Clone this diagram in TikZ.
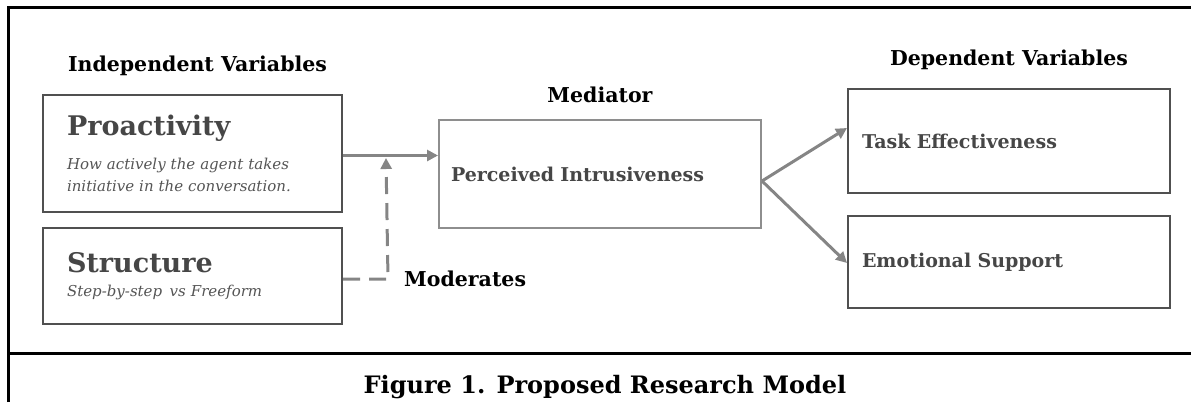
\documentclass[tikz,border=0pt]{standalone}
\usepackage{fontspec}
\setmainfont{DejaVu Serif}
\usepackage{tikz}
\usetikzlibrary{positioning, arrows.meta}

\definecolor{boxline}{HTML}{505050}
\definecolor{medline}{HTML}{8E8E8E}
\definecolor{arrgray}{HTML}{858585}
\definecolor{boxtext}{HTML}{464646}
\definecolor{desctext}{HTML}{555555}

\begin{document}
\begin{tikzpicture}[
        x=1pt, y=-1pt,
        node distance=14pt and 14pt,
        base/.style={draw=boxline, line width=2pt, rectangle, anchor=north west, align=left, text=boxtext, inner ysep=0pt},
        ivbox/.style={base, minimum width=299pt, text width=251pt, inner xsep=24pt, font=\fontsize{15}{22}\selectfont},
        medbox/.style={base, draw=medline, minimum width=322pt, text width=298pt, inner xsep=12pt, minimum height=108pt, font=\fontsize{19}{23}\selectfont\bfseries},
        dvbox/.style={base, minimum width=322pt, text width=294pt, inner xsep=14pt, font=\fontsize{19}{23}\selectfont\bfseries},
        head/.style={inner sep=0pt, font=\fontsize{20.5}{24}\selectfont\bfseries},
        capt/.style={inner sep=0pt, font=\fontsize{24}{28}\selectfont\bfseries},
        frame/.style={line width=3pt, black},
        arr/.style={-{Triangle[length=11pt, width=11pt]}, line width=3pt, draw=arrgray},
        dasharr/.style={arr, dash pattern=on 17pt off 9pt}
    ]
    \useasboundingbox (0,0) rectangle (1191,402);

    % frame
    \draw[frame] (8,402) -- (8,7) -- (1191,7);
    \draw[frame] (8,353) -- (1191,353);

    % boxes
    \node[ivbox, minimum height=117pt] (pro) at (42,94)
        {{\fontsize{27}{30}\selectfont\bfseries Proactivity}\\[12pt]
         {\color{desctext}\itshape How actively the agent takes}\\
         {\color{desctext}\itshape initiative in the conversation.}};
    \node[ivbox, minimum height=96pt, below=14pt of pro] (str)
        {{\fontsize{27}{30}\selectfont\bfseries Structure}\\[2pt]
         {\color{desctext}\itshape Step-by-step\, vs Freeform}};
    \node[medbox] (med) at (438,119) {Perceived Intrusiveness};
    \node[dvbox, minimum height=104pt] (task) at (847,88) {Task Effectiveness};
    \node[dvbox, minimum height=92pt, below=21pt of task] (emo) {Emotional Support};

    % headings
    \node[head, above=18pt of pro.north, xshift=5pt] (ivhead) {Independent Variables};
    \node[head, above=16pt of med.north] (medhead) {Mediator};
    \node[head, above=18pt of task.north] (dvhead) {Dependent Variables};

    % moderation
    \coordinate (bend) at ([shift={(45pt,-3pt)}]str.east);
    \coordinate (modtip) at (386,158);
    \node[head, anchor=west, right=16pt of bend] (mod) {Moderates};

    % arrows
    \draw[arr] ([yshift=-2pt]pro.east) -- ([yshift=-2pt]pro.east -| med.west);
    \draw[dasharr] ([yshift=-3pt]str.east) -- (bend) -- (modtip);
    \draw[arr] ([yshift=-7pt]med.east) -- ([yshift=13pt]task.west);
    \draw[arr] ([yshift=-7pt]med.east) -- ([yshift=-1pt]emo.west);

    % caption
    \node[capt] (cap) at (605,387) {Figure 1. Proposed Research Model};
\end{tikzpicture}
\end{document}
